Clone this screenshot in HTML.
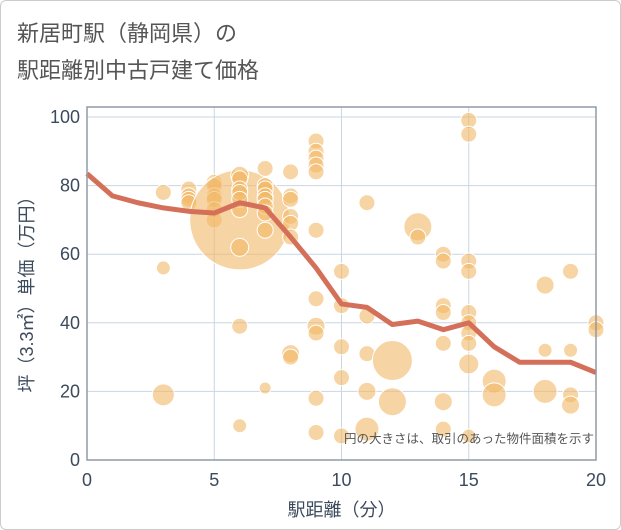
<!DOCTYPE html>
<html><head><meta charset="utf-8"><style>
body{margin:0;background:#fff;font-family:"Liberation Sans","Noto Sans CJK JP",sans-serif}
#wrap{position:relative;width:619px;height:528px;border:1px solid #ccc;border-radius:6px;overflow:hidden}
</style></head><body>
<div id="wrap">
<svg id="c" width="621" height="530" style="position:absolute;left:-1px;top:-1px">
<text x="17" y="41" font-size="22" fill="#555" font-family="Liberation Sans,Noto Sans CJK JP,sans-serif">新居町駅（静岡県）の</text>
<text x="17" y="78" font-size="22" fill="#555" font-family="Liberation Sans,Noto Sans CJK JP,sans-serif">駅距離別中古戸建て価格</text>
<g id="grid"></g><g id="marks"></g><g id="axes"></g>
</svg></div>
<script>
const lineX=[0,1,2,3,4,5,6,7,8,9,10,11,12,13,14,15,16,17,18,19,20];
const lineY=[83.5,77,75,73.5,72.5,72,75,73.5,65,56,45.5,44.5,39.5,40.5,38,40,33,28.5,28.5,28.5,25.5];
const ptX=[3,3,3,4,4,4,4,5,5,5,5,5,5,6,6,6,6,6,6,6,6,6,6,7,7,7,7,7,7,7,7,7,8,8,8,8,8,8,8,8,9,9,9,9,9,9,9,9,9,9,9,10,10,10,10,10,11,11,11,11,11,12,12,13,13,14,14,14,14,14,14,14,15,15,15,15,15,15,15,15,15,15,16,16,18,18,18,19,19,19,19,20,20];
const ptY=[78,56,19,79,77,76,75,81,80,77,76,73,70,70,83,82,79,78,76,73,62,39,10,85,80,79,77,76,74,72,67,21,84,77,76,71,69,65,31,30,93,90,88,86,84,67,47,39,37,18,8,55,45,33,24,7,75,42,31,20,9,29,17,68,65,60,58,45,43,34,17,9,99,95,58,55,43,40,37,34,28,7,23,19,51,32,20,55,32,19,16,40,38];
const ptR=[8,7,11,8,8,8,8,8,8,8,8,8,8,50,9,8,8,8,8,8,9,8,7,8,8,8,8,8,8,8,8,6,8,8,8,8,8,8,9,8,8,8,8,8,8,8,8,9,8,8,8,8,8,8,8,8,8,8,8,9,12,20,14,14,8,8,8,8,8,8,9,8,8,8,8,8,8,8,8,8,10,7,12,12,9,7,12,8,7,8,9,8,8];
const xTicks=[0,5,10,15,20], yTicks=[0,20,40,60,80,100];
const X0=87,X1=596,Y0=460,Y1=117;
const sx=v=>X0+(X1-X0)*v/20, sy=v=>Y0-(Y0-Y1)*v/100;
const NS="http://www.w3.org/2000/svg";
function mk(t,a,p){const e=document.createElementNS(NS,t);for(const k in a)e.setAttribute(k,a[k]);p.appendChild(e);return e;}
const g=document.getElementById('grid'),m=document.getElementById('marks'),ax=document.getElementById('axes');
xTicks.forEach(t=>{const l=mk('line',{x1:sx(t),x2:sx(t),y1:Y1-10,y2:Y0,stroke:'#c9d6e3','stroke-width':1},g);


const tx=mk('text',{x:sx(t),y:Y0+26,'text-anchor':'middle','font-size':18,fill:'#3b4a5c'},ax);tx.textContent=t;

});
yTicks.forEach(t=>{const l=mk('line',{x1:X0,x2:X1,y1:sy(t),y2:sy(t),stroke:'#c9d6e3','stroke-width':1},g);


const tx=mk('text',{x:X0-7,y:sy(t)+6,'text-anchor':'end','font-size':18,fill:'#3b4a5c'},ax);tx.textContent=t;

});
const fr=mk('rect',{x:X0,y:Y1-10,width:X1-X0,height:Y0-Y1+10,fill:'none',stroke:'#8f9aa5','stroke-width':1.5},ax);


ptX.forEach((x,i)=>{const c=mk('circle',{cx:sx(x),cy:sy(ptY[i]),r:ptR[i],fill:'#f2b865','fill-opacity':0.6,stroke:'#fff','stroke-width':1},m);

});
const pl=mk('polyline',{points:lineX.map((x,i)=>sx(x)+','+sy(lineY[i])).join(' '),fill:'none',stroke:'#d4705a','stroke-width':5,'stroke-linejoin':'round'},m);


const note=mk('text',{x:594,y:443,'text-anchor':'end','font-size':12.5,fill:'#555'},ax);note.textContent='円の大きさは、取引のあった物件面積を示す';


const xt=mk('text',{x:(X0+X1)/2,y:516,'text-anchor':'middle','font-size':18,fill:'#3b4a5c'},ax);xt.textContent='駅距離（分）';


const yt=mk('text',{x:0,y:0,'text-anchor':'middle','font-size':18,fill:'#3b4a5c',transform:'translate(33,290) rotate(-90)'},ax);yt.textContent='坪（3.3㎡）単価（万円）';


</script></body></html>
